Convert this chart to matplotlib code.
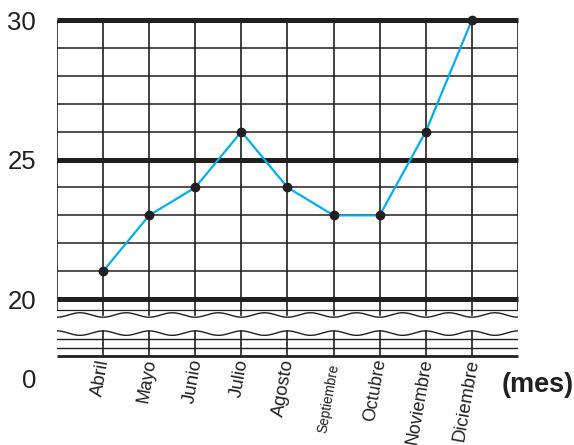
import numpy as np
import matplotlib
matplotlib.use('Agg')
import matplotlib.pyplot as plt

plt.rcParams['font.family'] = ['Liberation Sans', 'DejaVu Sans']

months = ['Abril', 'Mayo', 'Junio', 'Julio', 'Agosto', 'Septiembre',
          'Octubre', 'Noviembre', 'Diciembre']
values = [21, 23, 24, 26, 24, 23, 23, 26, 30]
month_pos = list(range(1, 10))
y_ticks = [20, 25, 30]
# the month names are not all the same size in the original
label_sizes = [13.5, 13, 13.5, 13.5, 13.5, 9.8, 12.8, 12.9, 13.3]

ink = '#231f20'
bottom = 17.96
cut_top = 19.43    # upper wavy line
cut_low = 18.78    # lower wavy line

fig = plt.figure(figsize=(5.74, 4.45), dpi=100)
ax = fig.add_axes([0.0993, 0.2, 0.8031, 0.755])
ax.set_xlim(0, 10)
ax.set_ylim(bottom, 30)
for s in ax.spines.values():
    s.set_visible(False)

# grid above the break
for y in range(21, 30):
    ax.plot([0, 10], [y, y], color=ink, lw=1.1, solid_capstyle='butt', zorder=1)
for y in y_ticks:
    ax.plot([0, 10], [y, y], color=ink, lw=3.6, solid_capstyle='butt', zorder=2, clip_on=False)
ax.plot([0, 10], [19.606, 19.606], color=ink, lw=0.9, zorder=1)
for x in range(0, 11):
    ytop = 19.606 if x in (0, 10) else cut_top
    ax.plot([x, x], [ytop, 30], color=ink, lw=1.2, zorder=1)

# break marks
xw = np.linspace(0, 10, 600)
ax.plot(xw, cut_top - 0.08 * np.cos(2 * np.pi * xw), color=ink, lw=1.0, zorder=1)
ax.plot(xw, cut_low + 0.08 * np.cos(2 * np.pi * xw), color=ink, lw=1.0, zorder=1)

# grid below the break
for y in (18.57, 18.24):
    ax.plot([0, 10], [y, y], color=ink, lw=1.0, zorder=1)
ax.plot([0, 10], [bottom, bottom], color=ink, lw=2.0, solid_capstyle='butt', zorder=2, clip_on=False)
for x in range(1, 10):
    ax.plot([x, x], [bottom, cut_low + 0.08], color=ink, lw=1.2, zorder=1)

# data
ax.plot(month_pos, values, color='#00aeef', lw=1.6, zorder=3)
ax.plot(month_pos, values, 'o', color=ink, ms=6, zorder=4, clip_on=False)

ax.set_xticks([])
ax.set_yticks(y_ticks)
ax.set_yticklabels([str(v) for v in y_ticks], fontsize=18.5, color=ink)
ax.tick_params(axis='y', length=0, pad=15)

for x, name, fs in zip(month_pos, months, label_sizes):
    ytop = 17.66 if name == 'Septiembre' else 17.85
    ax.text(x + 0.03, ytop, name, rotation=80, rotation_mode='anchor',
            ha='right', va='center', fontsize=fs, color=ink)

ax.text(-0.455, 17.06, '0', ha='right', va='center', fontsize=18.5, color=ink, clip_on=False)
ax.text(10.43, 16.92, '(mes)', ha='center', va='center', fontsize=19.5,
        fontweight='bold', color=ink, clip_on=False)

fig.savefig('out.png', dpi=100)
